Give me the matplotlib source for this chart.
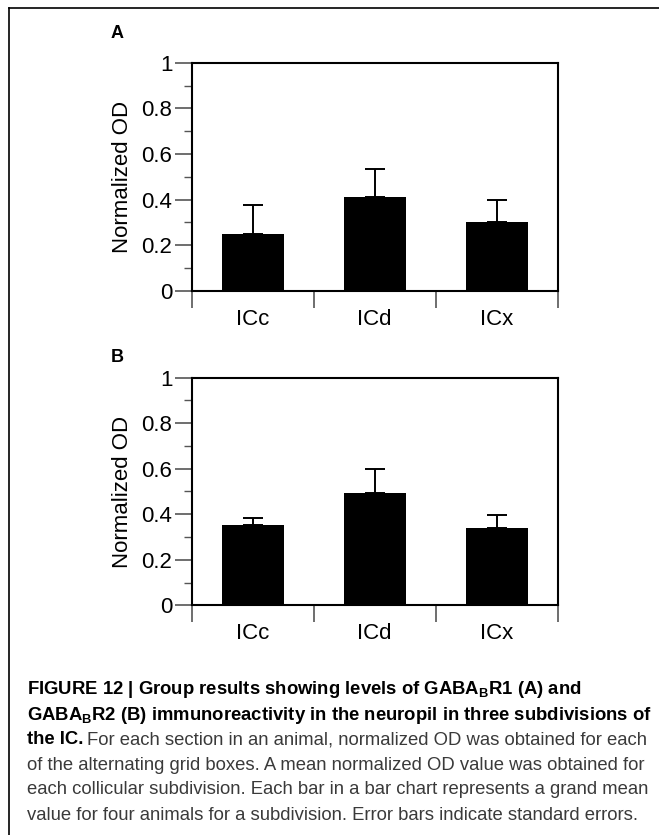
import matplotlib
matplotlib.use("Agg")
import matplotlib.pyplot as plt
from matplotlib import font_manager
from matplotlib.lines import Line2D

# Data
categories = ["ICc", "ICd", "ICx"]
r1_mean = [0.25, 0.41, 0.30]
r1_sem = [0.125, 0.125, 0.10]
r2_mean = [0.355, 0.495, 0.34]
r2_sem = [0.03, 0.105, 0.055]
yticks = [0, 0.2, 0.4, 0.6, 0.8, 1]
yticklabels = ["0", "0.2", "0.4", "0.6", "0.8", "1"]

names = {f.name for f in font_manager.fontManager.ttflist}
narrow = "Liberation Sans Narrow" if "Liberation Sans Narrow" in names else "Liberation Sans"
plt.rcParams["font.family"] = ["Liberation Sans", "DejaVu Sans"]
plt.rcParams["mathtext.fontset"] = "custom"
plt.rcParams["mathtext.rm"] = narrow
plt.rcParams["mathtext.bf"] = narrow + ":bold"

fig = plt.figure(figsize=(6.59, 8.35), dpi=100)
W, H = 659, 835


def panel(rect, means, sems, letter, letter_y):
    ax = fig.add_axes(rect)
    x = range(len(categories))
    ax.bar(x, means, width=0.51, color="black", zorder=2)
    ax.errorbar(x, means, yerr=[[0] * len(sems), sems], fmt="none",
                ecolor="black", elinewidth=1.4, capsize=7, capthick=1.4, zorder=1)
    ax.set_xlim(-0.5, len(categories) - 0.5)
    ax.set_ylim(0, 1)
    ax.set_yticks(yticks)
    ax.set_yticklabels(yticklabels)
    ax.set_yticks([0.1, 0.3, 0.5, 0.7, 0.9], minor=True)
    ax.set_xticks([-0.5, 0.5, 1.5, 2.5])
    ax.set_xticklabels([])
    ax.set_xticks(list(x), minor=True)
    ax.set_xticklabels(categories, minor=True, fontsize=16)
    ax.tick_params(axis="x", which="major", direction="out", length=12, width=1.2, color="#555555")
    ax.tick_params(axis="x", which="minor", length=0, pad=13)
    ax.tick_params(axis="y", which="major", direction="out", length=12, width=1.2,
                   color="#555555", labelsize=16, pad=2)
    ax.tick_params(axis="y", which="minor", direction="out", length=6, width=1.0, color="#555555")
    for s in ax.spines.values():
        s.set_linewidth(1.5)
    ax.set_ylabel("Normalized OD", fontsize=16, labelpad=6)
    fig.text(117 / W, 1 - letter_y / H, letter, fontsize=13, fontweight="bold",
             ha="center", va="center")
    return ax


panel([191.7 / W, 1 - 290.7 / H, 366 / W, 228 / H], r1_mean, r1_sem, "A", 33)
panel([191.7 / W, 1 - 605.3 / H, 366 / W, 227.6 / H], r2_mean, r2_sem, "B", 357)

# frame around the figure (top and left edges)
fig.add_artist(Line2D([9 / W, 9 / W], [0, 1 - 8 / H], color="black", lw=1.2, transform=fig.transFigure))
fig.add_artist(Line2D([9 / W, 1], [1 - 8 / H, 1 - 8 / H], color="black", lw=1.2, transform=fig.transFigure))

# caption
cap_size = 13.3
x0 = 27 / W
lines_y = [690, 715, 740, 765, 790, 815]
gray = "#3a3a3a"
fig.text(x0, 1 - lines_y[0] / H,
         r"FIGURE 12 | Group results showing levels of GABA$_{\mathbf{B}}$R1 (A) and",
         family=narrow, fontweight="bold", fontsize=cap_size, va="center")
fig.text(x0, 1 - lines_y[1] / H,
         r"GABA$_{\mathbf{B}}$R2 (B) immunoreactivity in the neuropil in three subdivisions of",
         family=narrow, fontweight="bold", fontsize=cap_size, va="center")
t = fig.text(x0, 1 - lines_y[2] / H, "the IC.", family=narrow, fontweight="bold",
             fontsize=cap_size, va="center")
fig.canvas.draw()
bb = t.get_window_extent()
fig.text(bb.x1 / W + 4 / W, 1 - lines_y[2] / H,
         "For each section in an animal, normalized OD was obtained for each",
         family=narrow, fontsize=cap_size, va="center", color=gray)
rest = [
    "of the alternating grid boxes. A mean normalized OD value was obtained for",
    "each collicular subdivision. Each bar in a bar chart represents a grand mean",
    "value for four animals for a subdivision. Error bars indicate standard errors.",
]
for y, s in zip(lines_y[3:], rest):
    fig.text(x0, 1 - y / H, s, family=narrow, fontsize=cap_size, va="center", color=gray)

fig.savefig("out.png", dpi=100)
